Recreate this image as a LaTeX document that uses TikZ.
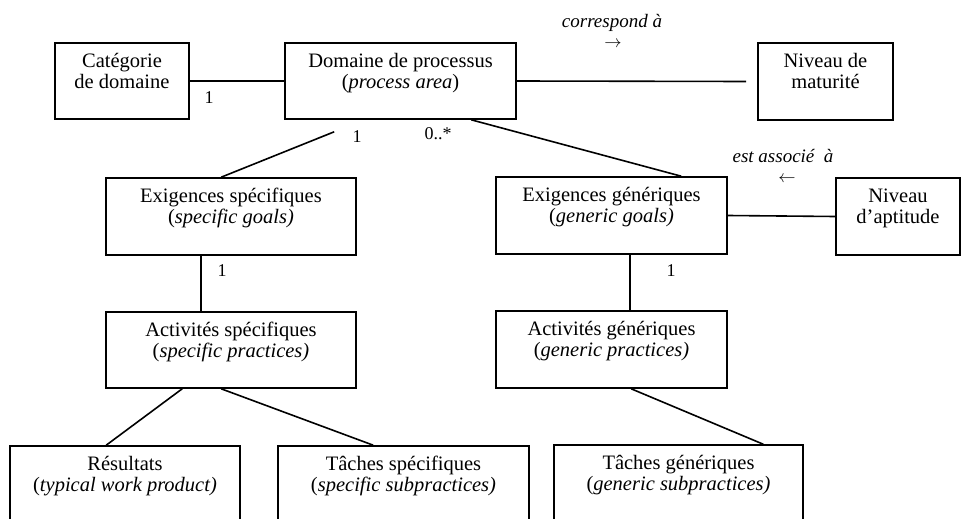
\documentclass[tikz,border=0pt]{standalone}
\usepackage{fontspec}
\setmainfont{Liberation Serif}
\usetikzlibrary{calc}
\newcommand\firststrut{\rule{0pt}{15pt}}
\newcommand\labstrut{\rule{0pt}{14pt}}
\begin{document}
\begin{tikzpicture}[x=1pt,y=-1pt,
  box/.style={draw,line width=1.6pt,rectangle,inner sep=0pt,minimum height=76pt},
  txt/.style={anchor=north,align=center,inner sep=0pt,font=\fontsize{20.5}{21}\selectfont},
  lab/.style={inner sep=0pt,font=\fontsize{18}{18}\selectfont},
  ilab/.style={anchor=north,align=center,inner sep=0pt,font=\fontsize{19}{20}\selectfont},
  conn/.style={line width=1.6pt}]
\clip (0,0) rectangle (962,519);
% boxes
\node[box,minimum width=134pt] (cat) at (122,81) {};
\node[box,minimum width=231pt] (dom) at (400.5,81) {};
\node[box,minimum width=135pt,minimum height=77pt] (mat) at (825.5,81.5) {};
\node[box,minimum width=250pt,minimum height=77pt] (es) at (231,216.5) {};
\node[box,minimum width=231pt,minimum height=77pt] (eg) at (611.5,215.5) {};
\node[box,minimum width=124pt,minimum height=77pt] (apt) at (898,216.5) {};
\node[box,minimum width=250pt] (as) at (231,350) {};
\node[box,minimum width=231pt,minimum height=77pt] (ag) at (611.5,349.5) {};
\node[box,minimum width=230pt] (res) at (125,484) {};
\node[box,minimum width=251pt] (ts) at (403.5,484) {};
\node[box,minimum width=249pt] (tg) at (678.5,483) {};
% texts
\node[txt] (catt) at ([yshift=-10pt]cat.north) {\firststrut Catégorie\\de domaine};
\node[txt] (domt) at ([yshift=-10pt]dom.north) {\firststrut Domaine de processus\\(\textit{process area})};
\node[txt] (matt) at ([yshift=-10pt]mat.north) {\firststrut Niveau de\\maturité};
\node[txt] (est) at ([yshift=-10pt]es.north) {\firststrut Exigences spécifiques\\(\textit{specific goals)}};
\node[txt] (egt) at ([yshift=-10pt]eg.north) {\firststrut Exigences génériques\\(\textit{generic goals)}};
\node[txt] (aptt) at ([yshift=-10pt]apt.north) {\firststrut Niveau\\d’aptitude};
\node[txt] (ast) at ([yshift=-10pt]as.north) {\firststrut Activités spécifiques\\(\textit{specific practices)}};
\node[txt] (agt) at ([yshift=-10pt]ag.north) {\firststrut Activités génériques\\(\textit{generic practices)}};
\node[txt] (rest) at ([yshift=-10pt]res.north) {\firststrut Résultats\\(\textit{typical work product)}};
\node[txt] (tst) at ([yshift=-10pt]ts.north) {\firststrut Tâches spécifiques\\(\textit{specific subpractices)}};
\node[txt] (tgt) at ([yshift=-10pt]tg.north) {\firststrut Tâches génériques\\(\textit{generic subpractices)}};
% connector helper coordinates
\coordinate (matend) at ($(mat.west)+(-11,0)$);
\coordinate (d1s) at ($(dom.south west)+(50,12)$);
% connectors
\draw[conn] (cat.east) -- (dom.west);
\draw[conn] (dom.east) -- (matend);
\draw[conn] (d1s) -- ($(es.north west)+(116,0)$);
\draw[conn] ($(dom.south west)+(187,0)$) -- ($(eg.north west)+(186,0)$);
\draw[conn] (eg.east) -- (apt.west);
\draw[conn] ($(es.south west)+(96,0)$) -- ($(as.north west)+(96,0)$);
\draw[conn] ($(eg.south west)+(135,0)$) -- ($(ag.north west)+(135,0)$);
\draw[conn] ($(as.south west)+(77,0)$) -- ($(res.north west)+(97,0)$);
\draw[conn] ($(as.south west)+(116,0)$) -- ($(ts.north west)+(96,0)$);
\draw[conn] ($(ag.south west)+(136,0)$) -- ($(tg.north west)+(210,0)$);
% multiplicities
\node[lab] (m1) at (209,98) {1};
\node[lab] (m2) at (357,137) {1};
\node[lab] (m3) at (438,134) {0..*};
\node[lab] (m4) at (222,271) {1};
\node[lab] (m5) at (671,271) {1};
% association labels (with direction arrows)
\node[ilab] (corr) at (612,13) {\labstrut\textit{correspond à}\\\hspace*{2pt}$\rightarrow$};
\node[ilab] (assoc) at (783,148) {\labstrut\textit{est associé\ \ à}\\\hspace*{8pt}$\leftarrow$};
\end{tikzpicture}
\end{document}
